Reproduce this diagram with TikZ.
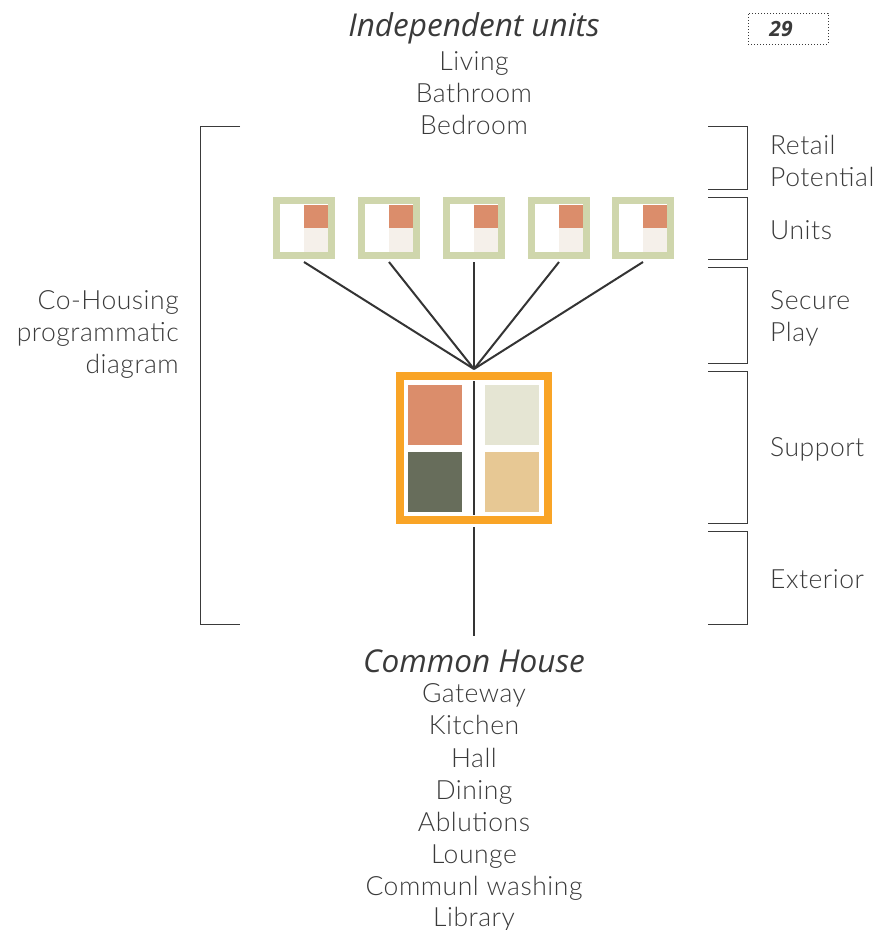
\documentclass[tikz,border=0pt]{standalone}
\usepackage{fontspec}
\setmainfont{Lato Light}[LetterSpace=2]
\newfontfamily\titlefont{Open Sans}
\usepackage{tikz}
\definecolor{ink}{HTML}{3A3A3A}
\definecolor{leaf}{HTML}{CFD6AC}
\definecolor{clay}{HTML}{DB8D6B}
\definecolor{shell}{HTML}{F5F0EA}
\definecolor{sand}{HTML}{E7C894}
\definecolor{mist}{HTML}{E5E5D3}
\definecolor{moss}{HTML}{676D5B}
\definecolor{amber}{HTML}{F9A426}
\tikzset{
  lbl/.style={font=\fontsize{26.5}{26.5}\selectfont, text=ink, inner sep=0pt, text height=18pt, text depth=5pt},
  ttl/.style={font=\titlefont\itshape\fontsize{31.5}{31.5}\selectfont, text=ink, inner sep=0pt},
  unitbox/.style={draw=leaf, line width=7pt, fill=white, minimum size=55pt, inner sep=0pt},
  brk/.style={line width=1pt, draw=ink},
  link/.style={line width=2pt, draw=ink!90!black}
}
\begin{document}
\begin{tikzpicture}[x=1pt,y=-1pt]
\useasboundingbox (0,0) rectangle (890,930);
% titles
\node[ttl] (indep) at (474,28) {Independent units};
\node[lbl] (living) at (474,64) {Living};
\node[lbl] (bath) at (474,96) {Bathroom};
\node[lbl] (bed) at (474,128) {Bedroom};
\node[draw=ink, dotted, line width=1pt, minimum width=80pt, minimum height=31pt, inner sep=0pt,
  font=\titlefont\bfseries\itshape\fontsize{21}{21}\selectfont, text=ink] (page) at (788,28.5) {\hspace*{-14pt}29};
% left bracket
\draw[brk] (240,126) -- (200,126) -- (200,624) -- (240,624);
\node[lbl, anchor=east] (co1) at (179,303) {Co-Housing};
\node[lbl, anchor=east] (co2) at (179,335) {programmatic};
\node[lbl, anchor=east] (co3) at (179,367) {diagram};
% right brackets
\draw[brk] (708,126) -- (747,126) -- (747,189) -- (708,189);
\draw[brk] (708,197) -- (747,197) -- (747,259) -- (708,259);
\draw[brk] (708,267) -- (747,267) -- (747,363) -- (708,363);
\draw[brk] (708,371) -- (747,371) -- (747,523) -- (708,523);
\draw[brk] (708,531) -- (747,531) -- (747,624) -- (708,624);
\node[lbl, anchor=west] (retail) at (770,148) {Retail};
\node[lbl, anchor=west] (potential) at (770,180) {Potential};
\node[lbl, anchor=west] (units) at (770,233) {Units};
\node[lbl, anchor=west] (secure) at (770,303) {Secure};
\node[lbl, anchor=west] (play) at (770,335) {Play};
\node[lbl, anchor=west] (support) at (770,450) {Support};
\node[lbl, anchor=west] (exterior) at (770,582) {Exterior};
% units
\foreach \i/\x in {1/304,2/389,3/474,4/559,5/643}{
  \node[unitbox] (u\i) at (\x,228) {};
  \fill[clay] (\x,204.5) rectangle (\x+24,228);
  \fill[shell] (\x,228) rectangle (\x+24,251.5);
}
\coordinate (hub) at (474,369);
\foreach \i in {1,...,5}{
  \draw[link] ([yshift=-3pt]u\i.south) -- (hub);
}
% common house
\node[draw=amber, line width=8pt, fill=white, minimum width=148pt, minimum height=144pt, inner sep=0pt] (house) at (474,448) {};
\fill[clay] (408,385) rectangle (462,445);
\fill[mist] (485,385) rectangle (539,445);
\fill[moss] (408,452) rectangle (462,512);
\fill[sand] (485,452) rectangle (539,512);
\draw[link] (474,381) -- (474,515);
\coordinate (base) at (474,636);
\draw[link] ([yshift=-3pt]house.south) -- (base);
\node[ttl] (common) at (474,661) {Common House};
\node[lbl] (gate) at (474,696) {Gateway};
\node[lbl] (kitchen) at (474,728) {Kitchen};
\node[lbl] (hall) at (474,761) {Hall};
\node[lbl] (dining) at (474,793) {Dining};
\node[lbl] (ablu) at (474,825) {Ablutions};
\node[lbl] (lounge) at (474,857) {Lounge};
\node[lbl] (wash) at (474,889) {Communl washing};
\node[lbl] (library) at (474,920) {Library};
\end{tikzpicture}
\end{document}
